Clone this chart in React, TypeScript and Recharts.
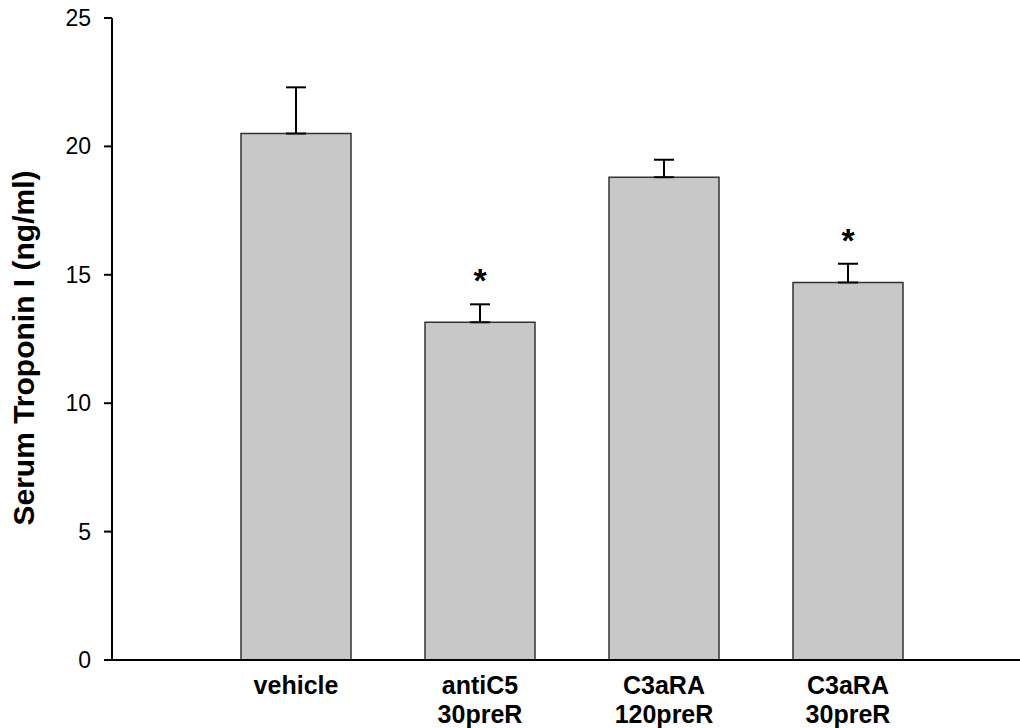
import { ComposedChart, Bar, XAxis, YAxis, ErrorBar, Scatter } from "recharts";

const groups = ["vehicle", "antiC5\n30preR", "C3aRA\n120preR", "C3aRA\n30preR"];
const means = [20.5, 13.15, 18.8, 14.7];
const sems = [1.8, 0.7, 0.68, 0.73];
const marked = [false, true, false, true];
const yTicks = [0, 5, 10, 15, 20, 25];

const data = groups.map((g, i) => ({
  pos: i + 1,
  name: g,
  mean: means[i],
  err: [0, sems[i]],
  top: means[i] + sems[i],
  star: marked[i],
}));

const FONT = "'Liberation Sans', Arial, sans-serif";

function GroupTick(props: any) {
  const { x, y, payload } = props;
  const label = groups[payload.value - 1] || "";
  const lines = label.split("\n");
  return (
    <text x={x} y={y + 26} textAnchor="middle" fontFamily={FONT} fontWeight="bold" fontSize={25} fill="#000">
      {lines.map((l, i) => (
        <tspan key={i} x={x} dy={i === 0 ? 0 : 29}>
          {l}
        </tspan>
      ))}
    </text>
  );
}

function ValueTick(props: any) {
  const { x, y, payload } = props;
  return (
    <text x={x - 11} y={y} dy={8} textAnchor="end" fontFamily={FONT} fontSize={23} fill="#000">
      {payload.value}
    </text>
  );
}

function StarShape(props: any) {
  const { cx, cy, payload } = props;
  if (!payload.star) return <g />;
  return (
    <text x={cx} y={cy - 12} textAnchor="middle" fontFamily={FONT} fontWeight="bold" fontSize={34} fill="#000">
      *
    </text>
  );
}

export default function App() {
  return (
    <div style={{ position: "absolute", left: 0, top: 0, width: 1020, height: 728, overflow: "hidden", background: "#fff" }}>
      <ComposedChart width={1032} height={728} data={data} margin={{ top: 18, right: 0, bottom: 8, left: 0 }}>
        <XAxis
          dataKey="pos"
          type="number"
          domain={[0, 5]}
          ticks={[1, 2, 3, 4]}
          tickLine={false}
          tick={<GroupTick />}
          height={60}
          axisLine={{ stroke: "#000", strokeWidth: 2 }}
        />
        <YAxis
          type="number"
          domain={[0, 25]}
          ticks={yTicks}
          width={112}
          tickSize={8}
          tickLine={{ stroke: "#000", strokeWidth: 2 }}
          axisLine={{ stroke: "#000", strokeWidth: 2 }}
          tick={<ValueTick />}
          label={{
            content: () => {
              const cy = 348;
              return (
                <text
                  x={34}
                  y={cy}
                  transform={`rotate(-90 34 ${cy})`}
                  textAnchor="middle"
                  fontFamily={FONT}
                  fontWeight="bold"
                  fontSize={30}
                  fill="#000"
                >
                  Serum Troponin I (ng/ml)
                </text>
              );
            },
          }}
        />
        <Bar dataKey="mean" barSize={110} fill="#c8c8c8" stroke="#333" strokeWidth={1.5} isAnimationActive={false}>
          <ErrorBar dataKey="err" direction="y" width={10} stroke="#000" strokeWidth={2} />
        </Bar>
        <Scatter dataKey="top" shape={<StarShape />} isAnimationActive={false} />
      </ComposedChart>
    </div>
  );
}
